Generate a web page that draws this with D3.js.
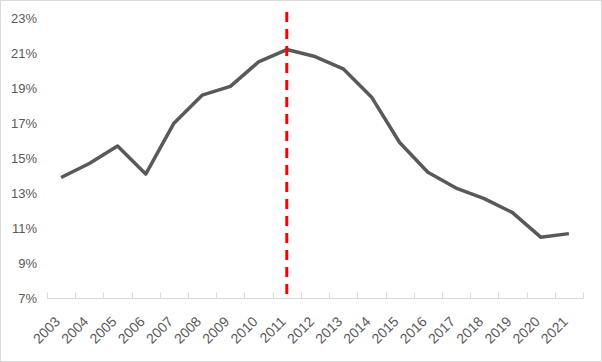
<!DOCTYPE html>
<html>
<head>
<meta charset="utf-8">
<script src="https://cdn.jsdelivr.net/npm/d3@7"></script>
<style>
  body { margin: 0; background: #fff; }
  text { font-family: "Liberation Sans", Arial, sans-serif; }
</style>
</head>
<body>
<div id="chart"></div>
<script>
// 数据
const years = ["2003", "2004", "2005", "2006", "2007", "2008", "2009", "2010", "2011", "2012",
  "2013", "2014", "2015", "2016", "2017", "2018", "2019", "2020", "2021"];
const values = [13.9, 14.7, 15.7, 14.1, 17.0, 18.6, 19.1, 20.5, 21.2, 20.8,
  20.1, 18.5, 15.9, 14.2, 13.3, 12.7, 11.9, 10.5, 10.7];
const yTicks = [7, 9, 11, 13, 15, 17, 19, 21, 23];
const markYear = "2011";

const W = 602, H = 362;
const mLeft = 47, mRight = 583, mTop = 18, mBottom = 298.5;

const svg = d3.select("#chart").append("svg")
  .attr("width", W)
  .attr("height", H);

// 外框
svg.append("rect")
  .attr("x", 0.5).attr("y", 0.5)
  .attr("width", W - 1).attr("height", H - 1)
  .attr("fill", "#fff")
  .attr("stroke", "#d9d9d9");

const x = d3.scaleBand().domain(years).range([mLeft, mRight]);
const y = d3.scaleLinear().domain([7, 23]).range([mBottom, mTop]);

// y轴标签
svg.selectAll(".ylab").data(yTicks).enter().append("text")
  .attr("class", "ylab")
  .attr("x", 37)
  .attr("y", d => y(d))
  .attr("dy", "0.35em")
  .attr("text-anchor", "end")
  .attr("font-size", 13)
  .attr("fill", "#595959")
  .text(d => d + "%");

// x轴
svg.append("line")
  .attr("x1", mLeft).attr("x2", mRight)
  .attr("y1", mBottom).attr("y2", mBottom)
  .attr("stroke", "#d9d9d9");

const edges = years.map(d => x(d)).concat([mRight]);
svg.selectAll(".tick").data(edges).enter().append("line")
  .attr("x1", d => Math.round(d) + 0.5).attr("x2", d => Math.round(d) + 0.5)
  .attr("y1", mBottom).attr("y2", mBottom - 6)
  .attr("stroke", "#d9d9d9");

svg.selectAll(".xlab").data(years).enter().append("text")
  .attr("class", "xlab")
  .attr("transform", d => `translate(${x(d) + x.bandwidth() / 2 - 3.5},${mBottom + 20.5}) rotate(-45)`)
  .attr("text-anchor", "end")
  .attr("dy", "0.35em")
  .attr("font-size", 14)
  .attr("fill", "#595959")
  .text(d => d);

// 折线
const line = d3.line()
  .x((d, i) => x(years[i]) + x.bandwidth() / 2)
  .y(d => y(d));

svg.append("path")
  .datum(values)
  .attr("d", line)
  .attr("fill", "none")
  .attr("stroke", "#595959")
  .attr("stroke-width", 3.5)
  .attr("stroke-linejoin", "round");

// 红色虚线
const mx = x(markYear) + x.bandwidth() / 2;
svg.append("line")
  .attr("x1", mx).attr("x2", mx)
  .attr("y1", 12).attr("y2", mBottom)
  .attr("stroke", "#ff0000")
  .attr("stroke-width", 3)
  .attr("stroke-dasharray", "10,7");
</script>
</body>
</html>
